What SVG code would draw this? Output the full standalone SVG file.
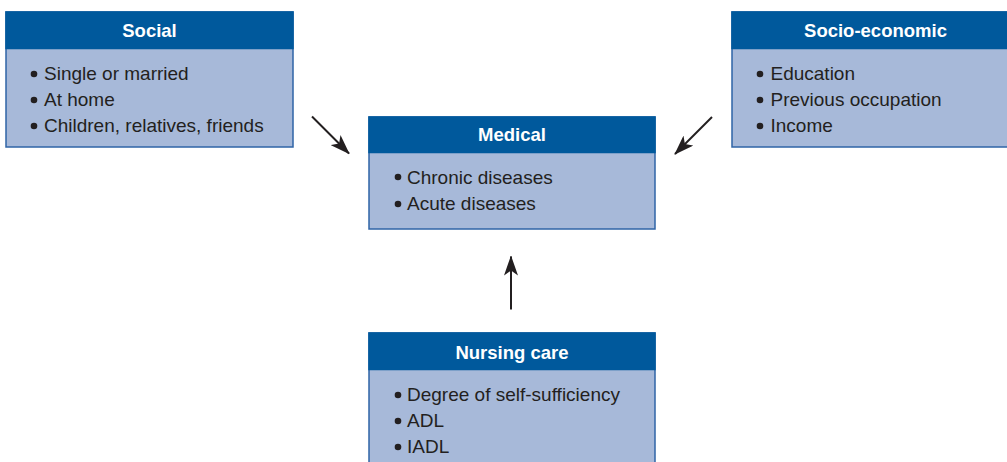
<svg xmlns="http://www.w3.org/2000/svg" width="1007" height="462" viewBox="0 0 1007 462">
  <style>
    .body { fill: #a7b9d9; stroke: #2f64a6; stroke-width: 1.5; }
    .head { fill: #00599c; }
    .title { font-family: "Liberation Sans", Arial, sans-serif; font-weight: bold; font-size: 18.5px; fill: #ffffff; text-anchor: middle; }
    .item { font-family: "Liberation Sans", Arial, sans-serif; font-size: 19px; fill: #231f20; }
    .dot { fill: #231f20; }
    .conn { stroke: #231f20; stroke-width: 2; fill: none; }
  </style>
  <defs>
    <marker id="arrow" viewBox="0 0 20 14" refX="19" refY="7" markerWidth="20" markerHeight="14" markerUnits="userSpaceOnUse" orient="auto">
      <path d="M0,0 L20,7 L0,14 L5,7 Z" fill="#231f20"/>
    </marker>
  </defs>

  <!-- Social -->
  <g id="social">
    <rect class="body" x="6" y="12" width="287" height="135"/>
    <rect class="head" x="5.25" y="11.25" width="288.5" height="38"/>
    <text class="title" x="149.5" y="37">Social</text>
    <circle class="dot" cx="34" cy="74" r="3.3"/>
    <text class="item" x="44" y="80">Single or married</text>
    <circle class="dot" cx="34" cy="100" r="3.3"/>
    <text class="item" x="44" y="106">At home</text>
    <circle class="dot" cx="34" cy="126" r="3.3"/>
    <text class="item" x="44" y="132">Children, relatives, friends</text>
  </g>

  <!-- Socio-economic -->
  <g id="socio-economic">
    <rect class="body" x="732" y="12" width="287" height="135"/>
    <rect class="head" x="731.25" y="11.25" width="288.5" height="38"/>
    <text class="title" x="875.5" y="37">Socio-economic</text>
    <circle class="dot" cx="760" cy="74" r="3.3"/>
    <text class="item" x="770.5" y="80">Education</text>
    <circle class="dot" cx="760" cy="100" r="3.3"/>
    <text class="item" x="770.5" y="106">Previous occupation</text>
    <circle class="dot" cx="760" cy="126" r="3.3"/>
    <text class="item" x="770.5" y="132">Income</text>
  </g>

  <!-- Medical -->
  <g id="medical">
    <rect class="body" x="369" y="117" width="286" height="112"/>
    <rect class="head" x="368.25" y="116.25" width="287.5" height="37"/>
    <text class="title" x="512" y="140.5">Medical</text>
    <circle class="dot" cx="398" cy="177" r="3.3"/>
    <text class="item" x="407" y="183.5">Chronic diseases</text>
    <circle class="dot" cx="398" cy="204" r="3.3"/>
    <text class="item" x="407" y="210">Acute diseases</text>
  </g>

  <!-- Nursing care -->
  <g id="nursing-care">
    <rect class="body" x="369" y="333" width="286" height="140"/>
    <rect class="head" x="368.25" y="332.25" width="287.5" height="38"/>
    <text class="title" x="512" y="358.5">Nursing care</text>
    <circle class="dot" cx="398" cy="395" r="3.3"/>
    <text class="item" x="407" y="401">Degree of self-sufficiency</text>
    <circle class="dot" cx="398" cy="421" r="3.3"/>
    <text class="item" x="407" y="427">ADL</text>
    <circle class="dot" cx="398" cy="447" r="3.3"/>
    <text class="item" x="407" y="453">IADL</text>
  </g>

  <!-- Connectors -->
  <g id="connectors">
    <line class="conn" x1="312" y1="116.5" x2="349" y2="153.5" marker-end="url(#arrow)"/>
    <line class="conn" x1="712" y1="117" x2="675" y2="154" marker-end="url(#arrow)"/>
    <line class="conn" x1="511" y1="309.5" x2="511" y2="256.5" marker-end="url(#arrow)"/>
  </g>
</svg>
